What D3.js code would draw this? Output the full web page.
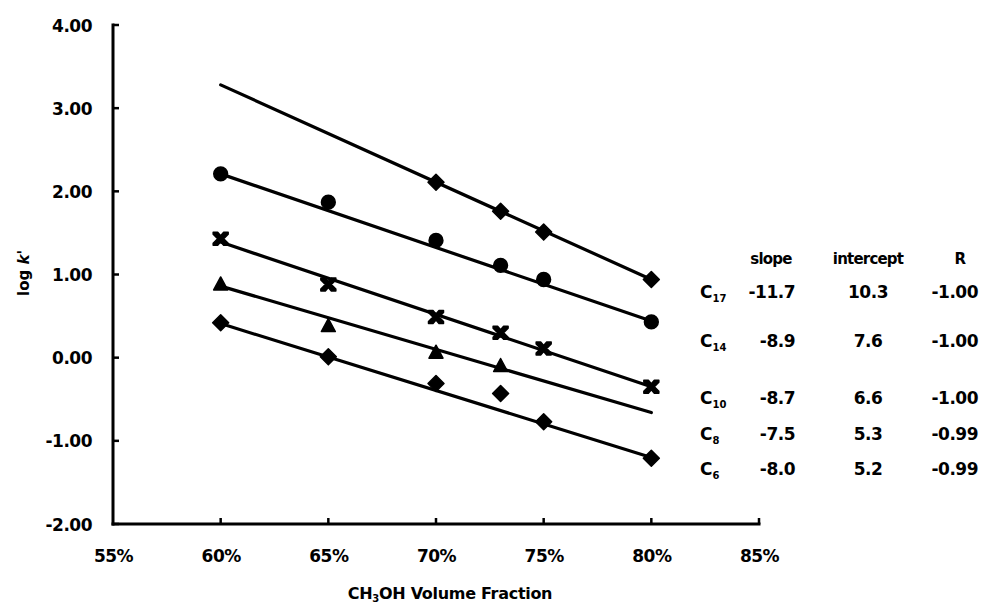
<!DOCTYPE html>
<html>
<head>
<meta charset="utf-8">
<script src="https://cdn.jsdelivr.net/npm/d3@7/dist/d3.min.js"></script>
<style>
  html, body { margin: 0; padding: 0; background: #fff; }
  svg { display: block; }
  text { font-family: "DejaVu Sans", "Liberation Sans", Arial, sans-serif; font-weight: bold; fill: #000; }
</style>
</head>
<body>
<svg id="chart" width="984" height="604"></svg>
<script>
// ---------- data ----------
const xValues = [0.60, 0.65, 0.70, 0.73, 0.75, 0.80];
const seriesNames = ["C17", "C14", "C10", "C8", "C6"];
const seriesSymbols = ["diamond", "circle", "xmark", "triangle", "diamond"];
const c17Values = [null, null, 2.11, 1.76, 1.51, 0.94];
const c14Values = [2.21, 1.87, 1.41, 1.11, 0.94, 0.43];
const c10Values = [1.43, 0.88, 0.49, 0.30, 0.11, -0.35];
const c8Values  = [0.88, 0.38, 0.06, -0.10, null, null];
const c6Values  = [0.42, 0.01, -0.31, -0.43, -0.77, -1.21];
// fitted regression lines, read at 60% and 80%
const fitX = [0.60, 0.80];
const fitAt60 = [3.28, 2.21, 1.39, 0.86, 0.41];
const fitAt80 = [0.94, 0.44, -0.35, -0.66, -1.20];
// axis ticks
const xTicks = [0.55, 0.60, 0.65, 0.70, 0.75, 0.80, 0.85];
const xTickLabels = ["55%", "60%", "65%", "70%", "75%", "80%", "85%"];
const yTicks = [4, 3, 2, 1, 0, -1, -2];
const yTickLabels = ["4.00", "3.00", "2.00", "1.00", "0.00", "-1.00", "-2.00"];
// regression table
const tableHeaders = ["slope", "intercept", "R"];
const tableSubscripts = ["17", "14", "10", "8", "6"];
const tableSlopes = ["-11.7", "-8.9", "-8.7", "-7.5", "-8.0"];
const tableIntercepts = ["10.3", "7.6", "6.6", "5.3", "5.2"];
const tableR = ["-1.00", "-1.00", "-1.00", "-0.99", "-0.99"];

const allSeries = [c17Values, c14Values, c10Values, c8Values, c6Values];

// ---------- layout ----------
const svg = d3.select("#chart");
const x = d3.scaleLinear().domain([0.55, 0.85]).range([113, 759]);
const y = d3.scaleLinear().domain([-2, 4]).range([524, 25]);

// axes
const axisG = svg.append("g");
const xAxis = d3.axisBottom(x).tickValues(xTicks).tickSize(0).tickFormat((d, i) => xTickLabels[i]);
const yAxis = d3.axisLeft(y).tickValues(yTicks).tickSize(0).tickFormat((d, i) => yTickLabels[i]);

const gx = axisG.append("g").attr("transform", `translate(0,${y(-2)})`).call(xAxis);
gx.select(".domain").remove();
gx.selectAll("text").attr("dy", null).attr("y", 38).style("font-size", "17px").attr("letter-spacing", "-0.5");

const gy = axisG.append("g").attr("transform", `translate(${x(0.55)},0)`).call(yAxis);
gy.select(".domain").remove();
gy.selectAll("text").attr("x", -21).attr("dy", "0.36em").style("font-size", "17px").attr("letter-spacing", "-0.5");

// axis lines
axisG.append("line").attr("x1", x(0.55)).attr("x2", x(0.55)).attr("y1", y(4)).attr("y2", y(-2))
  .attr("stroke", "#000").attr("stroke-width", 3).attr("stroke-linecap", "square");
axisG.append("line").attr("x1", x(0.55)).attr("x2", x(0.85)).attr("y1", y(-2)).attr("y2", y(-2))
  .attr("stroke", "#000").attr("stroke-width", 3).attr("stroke-linecap", "square");
// inward tick marks
axisG.selectAll(".ytk").data(yTicks).join("line")
  .attr("x1", x(0.55)).attr("x2", x(0.55) + 6).attr("y1", d => y(d)).attr("y2", d => y(d))
  .attr("stroke", "#000").attr("stroke-width", 2.5);
axisG.selectAll(".xtk").data(xTicks.slice(1)).join("line")
  .attr("x1", d => x(d)).attr("x2", d => x(d)).attr("y1", y(-2)).attr("y2", y(-2) - 6)
  .attr("stroke", "#000").attr("stroke-width", 2.5);

// axis titles
const xt = svg.append("text").attr("x", 450).attr("y", 599).attr("text-anchor", "middle")
  .style("font-size", "16px").attr("letter-spacing", "-0.3");
xt.append("tspan").text("CH");
xt.append("tspan").text("3").style("font-size", "10px").attr("dy", 3);
xt.append("tspan").text("OH Volume Fraction").attr("dy", -3);

const yt = svg.append("text").attr("transform", "translate(29,273) rotate(-90)").attr("text-anchor", "middle")
  .style("font-size", "15px");
yt.append("tspan").text("log ");
yt.append("tspan").text("k").style("font-style", "italic");
yt.append("tspan").text("'");

// fitted lines
const plot = svg.append("g");
const line = d3.line().x(d => x(d[0])).y(d => y(d[1]));
seriesNames.forEach((name, i) => {
  plot.append("path")
    .datum([[fitX[0], fitAt60[i]], [fitX[1], fitAt80[i]]])
    .attr("d", line).attr("fill", "none").attr("stroke", "#000")
    .attr("stroke-width", 3.2).attr("stroke-linecap", "round");
});

// markers
function markerPath(type) {
  if (type === "diamond") return "M0,-8 L8,0 L0,8 L-8,0 Z";
  if (type === "circle") return d3.symbol(d3.symbolCircle, 150)();
  if (type === "triangle") return "M0,-7.5 L7,5.5 L-7,5.5 Z";
  // hourglass-like X marker
  return "M-7.5,-6.5 L-3,-6.5 L0,-3 L3,-6.5 L7.5,-6.5 L7.5,-4.5 L3,0 L7.5,4.5 L7.5,6.5 L3,6.5 L0,3 L-3,6.5 L-7.5,6.5 L-7.5,4.5 L-3,0 L-7.5,-4.5 Z";
}
seriesNames.forEach((name, i) => {
  const pts = xValues.map((xv, j) => [xv, allSeries[i][j]]).filter(p => p[1] !== null);
  plot.selectAll(".m" + i).data(pts).join("path")
    .attr("transform", d => `translate(${x(d[0])},${y(d[1])})`)
    .attr("d", markerPath(seriesSymbols[i]))
    .attr("fill", "#000").attr("stroke", "#000").attr("stroke-width", 1.5).attr("stroke-linejoin", "round");
});

// regression table
const tbl = svg.append("g");
const rowY = [292, 341, 398, 434, 469];
const colX = [771, 868, 960];
tbl.selectAll(".hdr").data(tableHeaders).join("text")
  .attr("x", (d, i) => colX[i]).attr("y", 264).attr("text-anchor", "middle")
  .style("font-size", "15px").attr("letter-spacing", "-0.8").text(d => d);
tableSubscripts.forEach((sub, i) => {
  const t = tbl.append("text").attr("x", 700).attr("y", rowY[i] + 6).style("font-size", "17px");
  t.append("tspan").text("C");
  t.append("tspan").text(sub).style("font-size", "10px").attr("dy", 4);
  tbl.append("text").attr("x", 795).attr("y", rowY[i] + 6).attr("text-anchor", "end")
    .style("font-size", "17px").attr("letter-spacing", "-0.5").text(tableSlopes[i]);
  tbl.append("text").attr("x", 868).attr("y", rowY[i] + 6).attr("text-anchor", "middle")
    .style("font-size", "17px").attr("letter-spacing", "-0.5").text(tableIntercepts[i]);
  tbl.append("text").attr("x", 978).attr("y", rowY[i] + 6).attr("text-anchor", "end")
    .style("font-size", "17px").attr("letter-spacing", "-0.5").text(tableR[i]);
});
</script>
</body>
</html>
